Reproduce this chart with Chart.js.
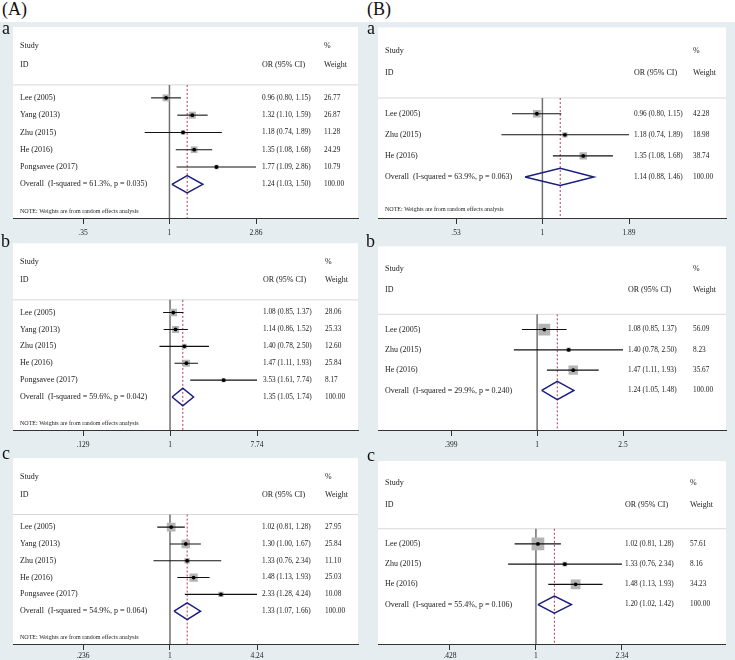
<!DOCTYPE html>
<html>
<head>
<meta charset="utf-8">
<script src="https://cdn.jsdelivr.net/npm/chart.js@4.4.1/dist/chart.umd.min.js"></script>
<style>
  html, body { margin: 0; padding: 0; background: #fff; }
  body { width: 735px; height: 660px; position: relative; overflow: hidden; font-family: "Liberation Serif", serif; }
  #region { position: absolute; left: 0; top: 22px; width: 735px; height: 638px; background: #e6edf1; }
  canvas { position: absolute; }
  .lbl { position: absolute; line-height: 1; color: #111; z-index: 2; }
  .big { font-size: 18px; }
  .sub { font-size: 18px; }
</style>
</head>
<body>
<div id="region"></div>
<div class="lbl big" style="left:2px;top:0px">(A)</div>
<div class="lbl big" style="left:367px;top:0px">(B)</div>
<div class="lbl sub" style="left:2px;top:19px">a</div>
<div class="lbl sub" style="left:1px;top:232px">b</div>
<div class="lbl sub" style="left:2px;top:444px">c</div>
<div class="lbl sub" style="left:367px;top:19px">a</div>
<div class="lbl sub" style="left:366px;top:232px">b</div>
<div class="lbl sub" style="left:367px;top:446px">c</div>

<script>
/* =====================================================
   DATA
===================================================== */
const STUDIES_5 = ["Lee (2005)", "Yang (2013)", "Zhu (2015)", "He (2016)", "Pongsavee (2017)"];
const STUDIES_3 = ["Lee (2005)", "Zhu (2015)", "He (2016)"];

// (A) a
const A_a_or = [0.96, 1.32, 1.18, 1.35, 1.77];
const A_a_lo = [0.80, 1.10, 0.74, 1.08, 1.09];
const A_a_hi = [1.15, 1.59, 1.89, 1.68, 2.86];
const A_a_wt = [26.77, 26.87, 11.28, 24.29, 10.79];
const A_a_overall = [1.24, 1.03, 1.50];
const A_a_het = [61.3, 0.035];
const A_a_ticks = [0.35, 1, 2.86];
const A_a_tickLabels = [".35", "1", "2.86"];

// (A) b
const A_b_or = [1.08, 1.14, 1.40, 1.47, 3.53];
const A_b_lo = [0.85, 0.86, 0.78, 1.11, 1.61];
const A_b_hi = [1.37, 1.52, 2.50, 1.93, 7.74];
const A_b_wt = [28.06, 25.33, 12.60, 25.84, 8.17];
const A_b_overall = [1.35, 1.05, 1.74];
const A_b_het = [59.6, 0.042];
const A_b_ticks = [0.129, 1, 7.74];
const A_b_tickLabels = [".129", "1", "7.74"];

// (A) c
const A_c_or = [1.02, 1.30, 1.33, 1.48, 2.33];
const A_c_lo = [0.81, 1.00, 0.76, 1.13, 1.28];
const A_c_hi = [1.28, 1.67, 2.34, 1.93, 4.24];
const A_c_wt = [27.95, 25.84, 11.10, 25.03, 10.08];
const A_c_overall = [1.33, 1.07, 1.66];
const A_c_het = [54.9, 0.064];
const A_c_ticks = [0.236, 1, 4.24];
const A_c_tickLabels = [".236", "1", "4.24"];

// (B) a
const B_a_or = [0.96, 1.18, 1.35];
const B_a_lo = [0.80, 0.74, 1.08];
const B_a_hi = [1.15, 1.89, 1.68];
const B_a_wt = [42.28, 18.98, 38.74];
const B_a_overall = [1.14, 0.88, 1.46];
const B_a_het = [63.9, 0.063];
const B_a_ticks = [0.53, 1, 1.89];
const B_a_tickLabels = [".53", "1", "1.89"];

// (B) b
const B_b_or = [1.08, 1.40, 1.47];
const B_b_lo = [0.85, 0.78, 1.11];
const B_b_hi = [1.37, 2.50, 1.93];
const B_b_wt = [56.09, 8.23, 35.67];
const B_b_overall = [1.24, 1.05, 1.48];
const B_b_het = [29.9, 0.240];
const B_b_ticks = [0.399, 1, 2.5];
const B_b_tickLabels = [".399", "1", "2.5"];

// (B) c
const B_c_or = [1.02, 1.33, 1.48];
const B_c_lo = [0.81, 0.76, 1.13];
const B_c_hi = [1.28, 2.34, 1.93];
const B_c_wt = [57.61, 8.16, 34.23];
const B_c_overall = [1.20, 1.02, 1.42];
const B_c_het = [55.4, 0.106];
const B_c_ticks = [0.428, 1, 2.34];
const B_c_tickLabels = [".428", "1", "2.34"];

const NOTE = "NOTE: Weights are from random effects analysis";


/* =====================================================
   PANEL LAYOUT
===================================================== */
const panels = [
  { left: 0, top: 22, w: 365, h: 218, padTop: 5, padRight: 7, axisH: 22, tickPad: 5,
    studies: STUDIES_5, or: A_a_or, lo: A_a_lo, hi: A_a_hi, wt: A_a_wt, overall: A_a_overall, het: A_a_het,
    ticks: A_a_ticks, tickLabels: A_a_tickLabels, tickPx: [83, 256], orX: 262, wX: 324, box: 1.35, dia: 0.5, note: true },
  { left: 0, top: 238, w: 365, h: 214, padTop: 1, padRight: 7, axisH: 22, tickPad: 5,
    studies: STUDIES_5, or: A_b_or, lo: A_b_lo, hi: A_b_hi, wt: A_b_wt, overall: A_b_overall, het: A_b_het,
    ticks: A_b_ticks, tickLabels: A_b_tickLabels, tickPx: [83, 257], orX: 263, wX: 325, box: 1.4, dia: 0.52, note: true },
  { left: 0, top: 452, w: 365, h: 208, padTop: 1, padRight: 7, axisH: 16, tickPad: 2,
    studies: STUDIES_5, or: A_c_or, lo: A_c_lo, hi: A_c_hi, wt: A_c_wt, overall: A_c_overall, het: A_c_het,
    ticks: A_c_ticks, tickLabels: A_c_tickLabels, tickPx: [83, 257], orX: 262, wX: 325, box: 1.65, dia: 0.5, note: true },
  { left: 365, top: 22, w: 370, h: 218, padTop: 5, padRight: 9, axisH: 22, tickPad: 5,
    studies: STUDIES_3, or: B_a_or, lo: B_a_lo, hi: B_a_hi, wt: B_a_wt, overall: B_a_overall, het: B_a_het,
    ticks: B_a_ticks, tickLabels: B_a_tickLabels, tickPx: [91, 264], orX: 269, wX: 328, box: 1.18, dia: 0.41, note: true },
  { left: 365, top: 238, w: 370, h: 214, padTop: 1, padRight: 9, axisH: 22, tickPad: 5,
    studies: STUDIES_3, or: B_b_or, lo: B_b_lo, hi: B_b_hi, wt: B_b_wt, overall: B_b_overall, het: B_b_het,
    ticks: B_b_ticks, tickLabels: B_b_tickLabels, tickPx: [86, 258], orX: 263, wX: 328, box: 1.58, dia: 0.45, note: false },
  { left: 365, top: 452, w: 370, h: 208, padTop: 1, padRight: 9, axisH: 16, tickPad: 2,
    studies: STUDIES_3, or: B_c_or, lo: B_c_lo, hi: B_c_hi, wt: B_c_wt, overall: B_c_overall, het: B_c_het,
    ticks: B_c_ticks, tickLabels: B_c_tickLabels, tickPx: [85, 257], orX: 260, wX: 325, box: 1.68, dia: 0.42, note: false }
];

const SERIF = '"Liberation Serif", "Times New Roman", serif';


/* =====================================================
   BUILD ONE FOREST PLOT
===================================================== */
function makePanel(p) {

  const cv = document.createElement("canvas");
  cv.width = p.w;
  cv.height = p.h;
  cv.style.left = p.left + "px";
  cv.style.top = p.top + "px";
  document.body.appendChild(cv);

  const n = p.or.length;
  const L = 13, R = p.w - p.padRight;

  // log range so the outer ticks land where they sit in the figure
  const lnLo = Math.log(p.ticks[0]), lnHi = Math.log(p.ticks[2]);
  const k = (lnHi - lnLo) / (p.tickPx[1] - p.tickPx[0]);
  const xMin = Math.exp(lnLo - (p.tickPx[0] - L) * k);
  const xMax = Math.exp(lnHi + (R - p.tickPx[1]) * k);

  const yTop = -3.1, yBot = n + 2.95, sepY = 0.25;
  const ovRow = n + 1;
  const [ovEst, ovLo, ovHi] = p.overall;

  const pts = p.or.map((v, i) => ({ x: v, y: i + 1 }));
  const datasets = [];

  /* first dataset is drawn on top */
  datasets.push({
    data: pts, pointRadius: 1.9, pointBackgroundColor: "#000", pointBorderWidth: 0
  });

  p.or.forEach((v, i) => {
    datasets.push({
      data: [{ x: p.lo[i], y: i + 1 }, { x: p.hi[i], y: i + 1 }],
      showLine: true, borderColor: "#111", borderWidth: 1.1, pointRadius: 0
    });
  });

  datasets.push({
    data: pts, pointStyle: "rect",
    pointRadius: p.wt.map(w => p.box * Math.sqrt(w) / Math.SQRT2),
    pointBackgroundColor: "#b4b4b4", pointBorderWidth: 0
  });

  datasets.push({
    data: [
      { x: ovLo, y: ovRow }, { x: ovEst, y: ovRow - p.dia },
      { x: ovHi, y: ovRow }, { x: ovEst, y: ovRow + p.dia }, { x: ovLo, y: ovRow }
    ],
    showLine: true, borderColor: "#1c1f7e", borderWidth: 1.5, pointRadius: 0,
    borderJoinStyle: "miter"
  });

  datasets.push({
    data: [{ x: ovEst, y: sepY }, { x: ovEst, y: yBot }],
    showLine: true, borderColor: "#b23a55", borderWidth: 1, borderDash: [2, 2], pointRadius: 0
  });

  datasets.push({
    data: [{ x: 1, y: sepY }, { x: 1, y: yBot }],
    showLine: true, borderColor: "#707070", borderWidth: 1.5, pointRadius: 0
  });

  datasets.push({
    data: [{ x: xMin, y: sepY }, { x: xMax, y: sepY }],
    showLine: true, borderColor: "#d8d8d8", borderWidth: 1, pointRadius: 0
  });

  const forestText = {
    id: "forestText",
    beforeDraw(chart) {
      const a = chart.chartArea, ctx = chart.ctx;
      ctx.save();
      ctx.fillStyle = "#fff";
      ctx.fillRect(a.left, a.top, a.right - a.left, a.bottom - a.top);
      ctx.restore();
    },
    afterDatasetsDraw(chart) {
      const ctx = chart.ctx;
      const y = r => chart.scales.y.getPixelForValue(r);
      const sx = 20;

      ctx.save();
      ctx.fillStyle = "#222";
      ctx.textBaseline = "middle";
      ctx.textAlign = "left";

      ctx.font = "8px " + SERIF;
      ctx.fillText("Study", sx, y(-2));
      ctx.fillText("ID", sx, y(-0.93));
      ctx.fillText("%", p.wX, y(-2));
      ctx.fillText("Weight", p.wX, y(-0.93));
      ctx.fillText("OR (95% CI)", p.orX, y(-0.93));

      p.studies.forEach((s, i) => ctx.fillText(s, sx, y(i + 1)));
      ctx.fillText("Overall  (I-squared = " + p.het[0].toFixed(1) + "%, p = " + p.het[1].toFixed(3) + ")", sx, y(ovRow));

      ctx.font = "7.3px " + SERIF;
      p.or.forEach((v, i) => {
        ctx.fillText(v.toFixed(2) + " (" + p.lo[i].toFixed(2) + ", " + p.hi[i].toFixed(2) + ")", p.orX, y(i + 1));
        ctx.fillText(p.wt[i].toFixed(2), p.wX, y(i + 1));
      });
      ctx.fillText(ovEst.toFixed(2) + " (" + ovLo.toFixed(2) + ", " + ovHi.toFixed(2) + ")", p.orX, y(ovRow));
      ctx.fillText("100.00", p.wX, y(ovRow));

      if (p.note) {
        ctx.font = "6px " + SERIF;
        ctx.fillText(NOTE, sx, y(n + 2.55));
      }
      ctx.restore();
    }
  };

  new Chart(cv, {
    type: "scatter",
    data: { datasets },
    options: {
      responsive: false,
      animation: false,
      events: [],
      layout: { padding: { left: L, right: p.padRight, top: p.padTop, bottom: 0 } },
      plugins: { legend: { display: false }, tooltip: { enabled: false } },
      scales: {
        x: {
          type: "logarithmic", min: xMin, max: xMax, position: "bottom",
          afterBuildTicks: s => { s.ticks = p.ticks.map(v => ({ value: v })); },
          afterFit: s => { s.height = p.axisH; },
          border: { display: true, color: "#333", width: 1 },
          grid: { drawOnChartArea: false, drawTicks: true, tickLength: 6, color: "#333" },
          ticks: {
            autoSkip: false, maxRotation: 0, padding: p.tickPad, color: "#222",
            font: { family: SERIF, size: 7.5 },
            callback: (v, i) => p.tickLabels[i]
          }
        },
        y: { type: "linear", display: false, reverse: true, min: yTop, max: yBot }
      }
    },
    plugins: [forestText]
  });
}

panels.forEach(makePanel);
</script>
</body>
</html>
